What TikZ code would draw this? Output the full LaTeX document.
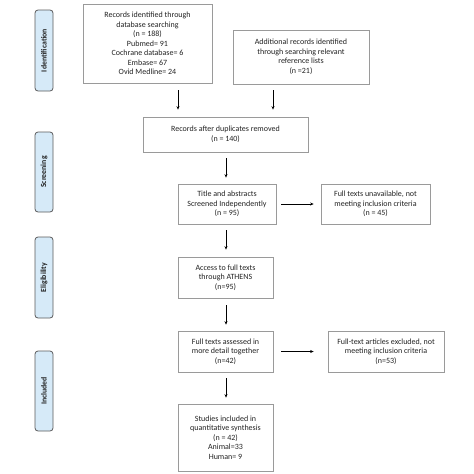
\documentclass[tikz,border=0pt]{standalone}
\usepackage{fontspec}
\setmainfont{Carlito}
\usetikzlibrary{arrows.meta}
\definecolor{stagefill}{HTML}{D6EAF8}
\definecolor{stageline}{HTML}{5A5A5A}
\definecolor{boxline}{HTML}{9A9A9A}
\definecolor{txt}{HTML}{222222}
\tikzset{
  flowbox/.style={draw=boxline, line width=0.7pt, rectangle, align=center, inner sep=0pt,
    text=txt, font=\fontsize{8}{9.5}\selectfont},
  stagebox/.style={draw=stageline, fill=stagefill, line width=0.8pt, rounded corners=3pt,
    minimum width=18pt, inner sep=0pt, font=\fontsize{7.8}{9}\selectfont\bfseries, text=txt},
  arr/.style={-{Stealth[length=3.5pt,width=3pt]}, line width=0.6pt, black}
}
\begin{document}
\begin{tikzpicture}[x=1pt,y=-1pt]
\useasboundingbox (0,0) rectangle (474,474);
% stage labels
\node[stagebox, minimum height=81pt] (s1) at (44,50.5) {\rotatebox{90}{Identification}};
\node[stagebox, minimum height=80pt] (s2) at (44,172) {\rotatebox{90}{Screening}};
\node[stagebox, minimum height=81pt] (s3) at (44,277.5) {\rotatebox{90}{Eligibility}};
\node[stagebox, minimum height=80pt] (s4) at (44,391) {\rotatebox{90}{Included}};
% boxes
\node[flowbox, minimum width=129pt, minimum height=79pt] (b1) at (147.5,43.5)
  {Records identified through\\database searching\\(n = 188)\\Pubmed= 91\\Cochrane database= 6\\Embase= 67\\Ovid Medline= 24};
\node[flowbox, minimum width=136pt, minimum height=54pt] (b2) at (301,57)
  {Additional records identified\\through searching relevant\\reference lists\\(n =21)};
\node[flowbox, minimum width=165pt, minimum height=35pt] (b3) at (225.5,134.5)
  {Records after duplicates removed\\(n = 140)};
\node[flowbox, minimum width=98pt, minimum height=40pt] (b4) at (227,204)
  {Title and abstracts\\Screened Independently\\(n = 95)};
\node[flowbox, minimum width=109pt, minimum height=40pt] (b5) at (375.5,204)
  {Full texts unavailable, not\\meeting inclusion criteria\\(n = 45)};
\node[flowbox, minimum width=95pt, minimum height=41pt] (b6) at (225.5,277.5)
  {Access to full texts\\through ATHENS\\(n=95)};
\node[flowbox, minimum width=95pt, minimum height=41pt] (b7) at (225.5,351.5)
  {Full texts assessed in\\more detail together\\(n=42)};
\node[flowbox, minimum width=116pt, minimum height=41pt] (b8) at (386,351.5)
  {Full-text articles excluded, not\\meeting inclusion criteria\\(n=53)};
\node[flowbox, minimum width=95pt, minimum height=67pt] (b9) at (225.5,437.5)
  {Studies included in\\quantitative synthesis\\(n = 42)\\Animal=33\\Human= 9};
% arrow columns
\coordinate (c1) at (178,0);
\coordinate (c2) at (273,0);
\coordinate (cm) at (226,0);
\draw[arr, shorten <=7pt, shorten >=7pt] (b1.south -| c1) -- (b3.north -| c1);
\draw[arr, shorten <=6pt, shorten >=7pt] (b2.south -| c2) -- (b3.north -| c2);
\draw[arr, shorten <=6pt, shorten >=6pt] (b3.south -| cm) -- (b4.north -| cm);
\draw[arr, shorten <=5pt, shorten >=7pt] (b4.east) -- (b5.west);
\draw[arr, shorten <=6pt, shorten >=7pt] (b4.south -| cm) -- (b6.north -| cm);
\draw[arr, shorten <=7pt, shorten >=6pt] (b6.south -| cm) -- (b7.north -| cm);
\draw[arr, shorten <=8pt, shorten >=14pt] (b7.east) -- (b8.west);
\draw[arr, shorten <=6pt, shorten >=6pt] (b7.south -| cm) -- (b9.north -| cm);
\end{tikzpicture}
\end{document}
